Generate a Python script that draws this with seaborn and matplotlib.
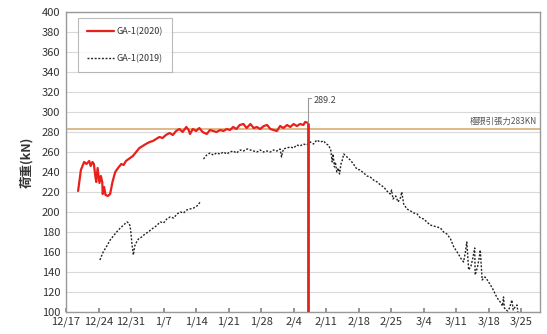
import numpy as np
import pandas as pd
import matplotlib
matplotlib.use("Agg")
import matplotlib.pyplot as plt
import seaborn as sns
from matplotlib.lines import Line2D

# x values are days counted from 12/17
tick_days = [0, 7, 14, 21, 28, 35, 42, 49, 56, 63, 70, 77, 84, 91, 98]
tick_labels = ["12/17", "12/24", "12/31", "1/7", "1/14", "1/21", "1/28", "2/4",
               "2/11", "2/18", "2/25", "3/4", "3/11", "3/18", "3/25"]

# GA-1(2020)
red_day = [2.6, 3.2, 3.9, 4.4, 5.0, 5.3, 5.7, 6.0, 6.3, 6.5, 6.8, 7.2, 7.5, 7.8, 7.9,
           8.2, 8.5, 9.0, 9.5, 10.0, 10.6, 11.2, 11.9, 12.4, 12.9, 13.5, 14.4, 15.1,
           15.8, 16.5, 17.2, 18.0, 18.7, 19.4, 20.1, 20.8, 21.5, 22.3, 23.0, 23.7,
           24.4, 25.1, 25.9, 26.4, 26.7, 27.3, 28.0, 28.7, 29.4, 30.3, 31.0, 31.7,
           32.4, 33.2, 33.9, 34.6, 35.3, 36.0, 36.7, 37.4, 38.2, 38.9, 39.7, 40.4,
           41.1, 41.8, 42.6, 43.3, 44.0, 44.7, 45.4, 46.1, 46.8, 47.6, 48.3, 49.0,
           49.7, 50.4, 51.1, 51.5, 52.0]
red_val = [221, 242, 250, 248, 251, 246, 250, 248, 236, 230, 244, 229, 236, 230, 218,
           225, 217, 216, 218, 230, 240, 244, 248, 247, 251, 253, 256, 260,
           264, 266, 268, 270, 271, 273, 275, 274, 277, 279, 277, 281,
           283, 280, 285, 282, 278, 283, 281, 284, 280, 278, 282, 281,
           280, 282, 281, 283, 282, 285, 283, 287, 288, 284, 288, 284,
           285, 283, 286, 287, 283, 282, 281, 286, 284, 287, 285, 288,
           286, 288, 287, 290, 289.2]

# GA-1(2019), first segment
a_day = [7.3, 8.0, 8.8, 9.5, 10.2, 10.9, 11.7, 12.4, 13.1, 13.5, 13.8, 14.0, 14.2,
         14.5, 14.8, 15.2, 15.6, 16.3, 17.0, 17.7, 18.5, 19.4, 20.3, 21.0, 21.7,
         22.4, 23.2, 23.9, 24.6, 25.3, 26.0, 26.7, 27.5, 28.2, 28.9]
a_val = [152, 160, 166, 172, 176, 180, 184, 187, 190, 189, 186, 178, 168,
         157, 166, 170, 173, 175, 178, 180, 183, 186, 190, 189, 193,
         195, 194, 198, 200, 199, 202, 203, 204, 206, 210]

# GA-1(2019), second segment
b_day = [29.6, 30.3, 31.0, 31.7, 32.4, 33.2, 33.9, 34.6, 35.3, 36.0, 36.7, 37.5,
         38.2, 39.0, 39.7, 40.4, 41.1, 41.8, 42.5, 43.3, 44.0, 44.7, 45.4, 46.1,
         46.4, 46.8, 47.5, 48.3, 49.0, 49.7, 50.4, 51.1, 51.8, 52.6, 53.3, 54.0,
         54.7, 55.5, 56.0, 56.5, 57.0, 57.3, 57.5, 57.8, 58.0, 58.3, 58.6, 58.9,
         59.2, 59.5, 59.8, 60.5, 61.2, 61.9, 62.6, 63.3, 64.1, 64.8, 65.5, 66.2,
         67.0, 67.7, 68.4, 69.1, 69.8, 70.1, 70.4, 71.0, 71.5, 72.0, 72.3, 72.7,
         73.4, 74.2, 74.9, 75.6, 76.3, 77.0, 77.7, 78.4, 79.1, 79.9, 80.6, 81.3,
         82.0, 82.8, 83.5, 84.2, 84.6, 85.1, 85.6, 86.0, 86.3, 86.7, 87.2, 87.6,
         88.0, 88.1, 88.6, 89.0, 89.2, 89.6, 90.2, 90.7, 91.4, 92.0, 92.5, 93.0,
         93.5, 94.0, 94.2, 94.4, 94.7, 95.1, 95.5, 96.0, 96.3, 96.7, 97.1, 97.3]
b_val = [253, 257, 259, 257, 259, 258, 260, 258, 260, 261, 259, 262,
         261, 263, 262, 261, 260, 262, 260, 261, 260, 262, 261, 263,
         255, 263, 264, 265, 264, 267, 266, 268, 267, 270, 268, 272,
         270, 271, 268, 267, 262, 250, 258, 245, 250, 240, 244, 238,
         248, 252, 258, 255, 252, 248, 243, 242, 239, 236, 235, 232,
         230, 227, 225, 221, 218, 222, 213, 216, 210, 214, 220, 208,
         203, 201, 199, 198, 194, 193, 190, 187, 186, 185, 184, 180,
         178, 173, 165, 160, 157, 153, 150, 160, 170, 142, 146, 154,
         164, 137, 145, 155, 162, 132, 135, 132, 127, 122, 117, 113,
         110, 106, 115, 104, 102, 101, 104, 112, 102, 105, 107, 100]

peak_day = 52.0
peak_val = 289.2
limit_val = 283

sns.set_theme(style="whitegrid")
plt.rcParams["font.family"] = ["Noto Sans CJK JP", "DejaVu Sans"]

red = "#e8201c"
fig = plt.figure(figsize=(5.47, 3.34), dpi=100)
ax = fig.add_axes([0.1207, 0.066, 0.866, 0.898])

df_red = pd.DataFrame({"day": red_day, "load": red_val})
df_a = pd.DataFrame({"day": a_day, "load": a_val})
df_b = pd.DataFrame({"day": b_day, "load": b_val})

dot = (0, (1.4, 1.2))
sns.lineplot(data=df_a, x="day", y="load", ax=ax, color="#222222", lw=1.0,
             linestyle=dot, estimator=None, sort=False, legend=False)
sns.lineplot(data=df_b, x="day", y="load", ax=ax, color="#222222", lw=1.0,
             linestyle=dot, estimator=None, sort=False, legend=False)
sns.lineplot(data=df_red, x="day", y="load", ax=ax, color=red, lw=1.6,
             estimator=None, sort=False, legend=False)

ax.axhline(limit_val, color="#ddb37f", lw=1.3, zorder=1)
ax.text(101.5, 291, "極限引張力283KN", ha="right", va="center",
        fontsize=6, color="#555555")

ax.vlines(peak_day, 100, peak_val, color=red, lw=2.0, zorder=4)
ax.plot([peak_day, peak_day, peak_day + 0.8], [peak_val, 314, 314],
        color="#999999", lw=0.8)
ax.text(peak_day + 1.3, 311.5, "289.2", ha="left", va="center",
        fontsize=6.5, color="#444444")

ax.set_xlim(0, 102)
ax.set_ylim(100, 400)
ax.set_yticks(range(100, 401, 20))
ax.set_xticks(tick_days)
ax.set_xticklabels(tick_labels)
ax.grid(axis="x", visible=False)
ax.grid(axis="y", color="#d9d9d9", lw=0.8)
ax.tick_params(axis="x", direction="in", length=3, color="#888888",
               labelsize=8, labelcolor="#333333", pad=3, bottom=True)
ax.tick_params(axis="y", length=0, labelsize=8, labelcolor="#333333", pad=4)
for s in ax.spines.values():
    s.set_color("#999999")
    s.set_linewidth(1.0)
ax.set_xlabel("")
ax.set_ylabel("荷重(kN)", fontsize=9, fontweight="bold", color="#333333", labelpad=6)

handles = [Line2D([], [], color=red, lw=1.6),
           Line2D([], [], color="#222222", lw=1.0, linestyle=dot)]
leg = ax.legend(handles, ["GA-1(2020)", "GA-1(2019)"], loc="upper left",
                bbox_to_anchor=(0.015, 0.995), fontsize=6.5, frameon=True,
                fancybox=False, edgecolor="#aaaaaa", labelspacing=2.0,
                handlelength=3.0, handletextpad=0.3, borderpad=1.0)
leg.get_frame().set_linewidth(0.8)
for t in leg.get_texts():
    t.set_color("#333333")

fig.savefig("out.png", dpi=100)
